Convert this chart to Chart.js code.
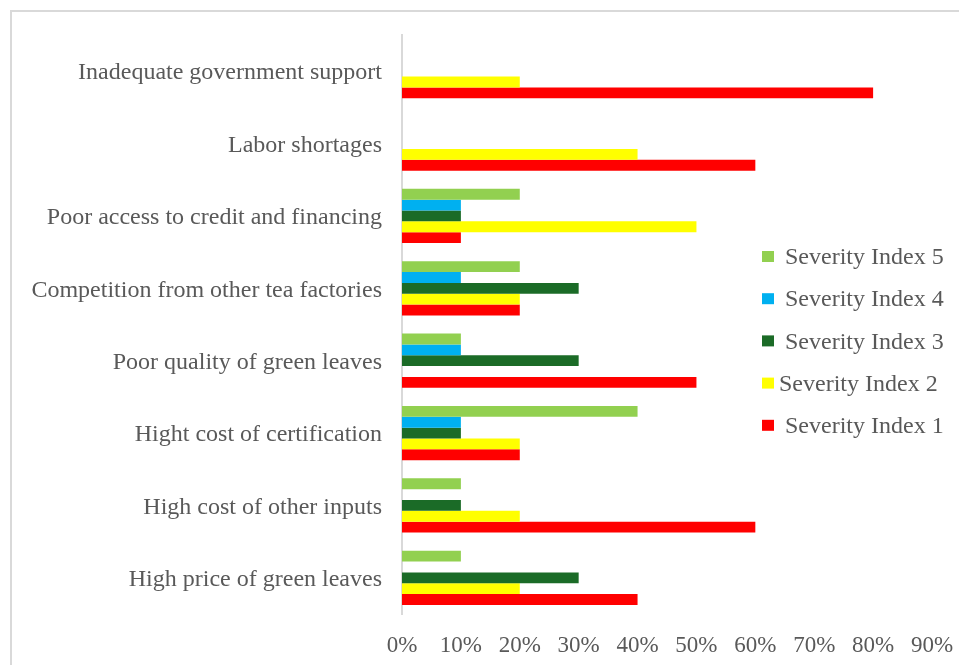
<!DOCTYPE html>
<html>
<head>
<meta charset="utf-8">
<script src="https://cdn.jsdelivr.net/npm/chart.js@4/dist/chart.umd.min.js"></script>
<style>
  html, body { margin: 0; padding: 0; background: #ffffff; }
  #wrap { width: 959px; height: 665px; position: relative; }
</style>
</head>
<body>
<div id="wrap"><canvas id="chart" width="959" height="665"></canvas></div>
<script>
// Problems reported by tea factories, share of respondents per severity level (%)
const categories = [
  'Inadequate government support',
  'Labor shortages',
  'Poor access to credit and financing',
  'Competition from other tea factories',
  'Poor quality of green leaves',
  'Hight cost of certification',
  'High cost of other inputs',
  'High price of green leaves'
];
const severity5 = [0, 0, 20, 20, 10, 40, 10, 10];
const severity4 = [0, 0, 10, 10, 10, 10, 0, 0];
const severity3 = [0, 0, 10, 30, 30, 10, 10, 30];
const severity2 = [20, 40, 50, 20, 0, 20, 20, 20];
const severity1 = [80, 60, 10, 20, 50, 20, 60, 40];
const seriesNames = ['Severity Index 5', 'Severity Index 4', 'Severity Index 3', 'Severity Index 2', 'Severity Index 1'];
const xTicks = [0, 10, 20, 30, 40, 50, 60, 70, 80, 90];

const colors = ['#92D050', '#00B0F0', '#1B6B27', '#FFFF00', '#FF0000'];
const textColor = '#595959';
const fontFamily = '"Liberation Serif", "Times New Roman", serif';

const seriesValues = [severity5, severity4, severity3, severity2, severity1];

// Outer frame of the chart
const framePlugin = {
  id: 'frame',
  beforeDraw(chart) {
    const ctx = chart.ctx;
    ctx.save();
    ctx.strokeStyle = '#d9d9d9';
    ctx.lineWidth = 2;
    ctx.strokeRect(11, 11, 1000, 1000);
    ctx.restore();
  }
};

// Legend drawn inside the plot area, on the right
const innerLegend = {
  id: 'innerLegend',
  afterDraw(chart) {
    const ctx = chart.ctx;
    ctx.save();
    ctx.font = '24px ' + fontFamily;
    ctx.textBaseline = 'middle';
    ctx.textAlign = 'left';
    chart.data.datasets.forEach((ds, i) => {
      const y = 257 + i * 42.2;
      ctx.fillStyle = ds.backgroundColor;
      ctx.fillRect(762, y - 6, 12, 11);
      ctx.fillStyle = textColor;
      ctx.fillText(ds.label, i === 3 ? 779 : 785, y + 1);
    });
    ctx.restore();
  }
};

new Chart(document.getElementById('chart'), {
  type: 'bar',
  data: {
    labels: categories,
    datasets: seriesNames.map((name, i) => ({
      label: name,
      data: seriesValues[i],
      backgroundColor: colors[i],
      borderWidth: 0,
      categoryPercentage: 0.75,
      barPercentage: 1.0
    }))
  },
  options: {
    indexAxis: 'y',
    responsive: false,
    animation: false,
    layout: { padding: { left: 0, right: 27, top: 35, bottom: 0 } },
    plugins: {
      legend: { display: false },
      tooltip: { enabled: false }
    },
    scales: {
      x: {
        min: 0,
        max: 90,
        afterBuildTicks(scale) {
          scale.ticks = xTicks.map(v => ({ value: v }));
        },
        afterFit(scale) {
          scale.height = 51;
          scale.paddingLeft = 0;
          scale.paddingRight = 0;
        },
        grid: { display: false, drawTicks: false },
        border: { display: false },
        ticks: {
          padding: 18,
          color: textColor,
          font: { family: fontFamily, size: 23 },
          maxRotation: 0,
          autoSkip: false,
          callback: v => v + '%'
        }
      },
      y: {
        afterFit(scale) { scale.width = 402; },
        grid: { display: false, drawTicks: false },
        border: { display: true, color: '#d9d9d9', width: 2 },
        ticks: {
          padding: 20,
          labelOffset: 2,
          color: textColor,
          font: { family: fontFamily, size: 24 },
          autoSkip: false
        }
      }
    }
  },
  plugins: [framePlugin, innerLegend]
});
</script>
</body>
</html>
